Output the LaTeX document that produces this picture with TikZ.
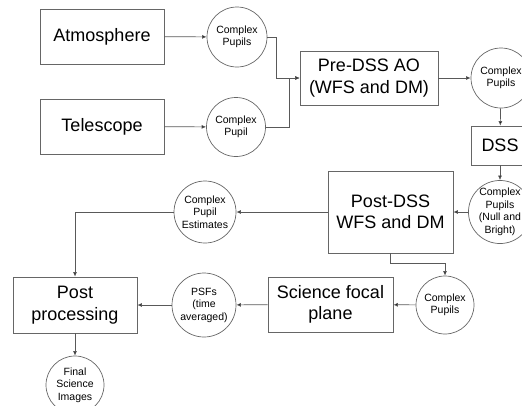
\documentclass[tikz,border=0pt]{standalone}
\usepackage{fontspec}
\setmainfont{Liberation Sans}
\usepackage{tikz}
\usetikzlibrary{shapes, arrows.meta}
\tikzstyle{blok} = [rectangle, draw=black!60, line width=0.7pt, fill=white, text centered, align=center, font=\fontsize{18}{21.5}\selectfont, inner sep=0pt]
\tikzstyle{pupil} = [circle, draw=black!60, line width=0.7pt, fill=white, text centered, align=center, font=\fontsize{10.5}{12.5}\selectfont, inner sep=0pt, minimum size=60pt]
\tikzstyle{arrow} = [draw=black!65, line width=0.7pt, ->, >={Latex[length=4.5pt,width=4pt,fill=black]}]

\begin{document}
\begin{tikzpicture}[x=1pt, y=-1pt]
\useasboundingbox (0,0) rectangle (522,405);

%Top row==============================================
\node (atm) [blok, minimum width=124pt, minimum height=55pt] at (102,36.5) {Atmosphere};
\node (tel) [blok, minimum width=124pt, minimum height=55pt] at (102,126.5) {Telescope};
\node (cp1) [pupil] at (237,37) {Complex\\Pupils};
\node (cp2) [pupil, minimum size=59pt] at (236,127) {Complex\\Pupil};
\node (pre) [blok, minimum width=138pt, minimum height=54pt] at (369,78) {Pre-DSS AO\\(WFS and DM)};
\node (cp3) [pupil] at (501,78) {Complex\\Pupils};

%Right column=========================================
\node (dss) [blok, minimum width=58pt, minimum height=39pt] at (500,145.5) {DSS};
\node (cp4) [pupil, minimum size=62pt] at (500,212) {Complex\\Pupils\\(Null and\\Bright)};
\node (post) [blok, minimum width=125pt, minimum height=82pt] at (390.5,212) {Post-DSS\\WFS and DM};
\node (est) [pupil, minimum size=62pt] at (205,212) {Complex\\Pupil\\Estimates};

%Bottom row===========================================
\node (pp) [blok, minimum width=124pt, minimum height=56pt] at (75,305) {Post\\processing};
\node (psf) [pupil, minimum size=64pt] at (204,305) {PSFs\\(time\\averaged)};
\node (sci) [blok, minimum width=125pt, minimum height=55pt] at (330.5,304.5) {Science focal\\plane};
\node (cp5) [pupil, minimum size=58pt] at (445,305) {Complex\\Pupils};
\node (fin) [pupil, minimum size=58pt] at (75,385) {Final\\Science\\Images};

%=====================================================
\draw [arrow] (atm) -- (cp1);
\draw [arrow] (tel) -- (cp2);
\draw [arrow] (cp1.east) -- ++(9,0) |- (pre.west);
\draw [arrow] (cp2.east) -- ++(23,0) |- (pre.west);
\draw [arrow] (pre) -- (cp3);
\draw [arrow] (cp3) -- (dss);
\draw [arrow] (dss) -- (cp4);
\draw [arrow] (cp4) -- (post);
\draw [arrow] (post) -- (est);
\draw [arrow] (est.west) -| (pp.north);
\draw [arrow] (post.south) -- ++(0,10) -| (cp5.north);
\draw [arrow] (cp5) -- (sci);
\draw [arrow] (sci) -- (psf);
\draw [arrow] (psf) -- (pp);
\draw [arrow] (pp) -- (fin);
\end{tikzpicture}
\end{document}
